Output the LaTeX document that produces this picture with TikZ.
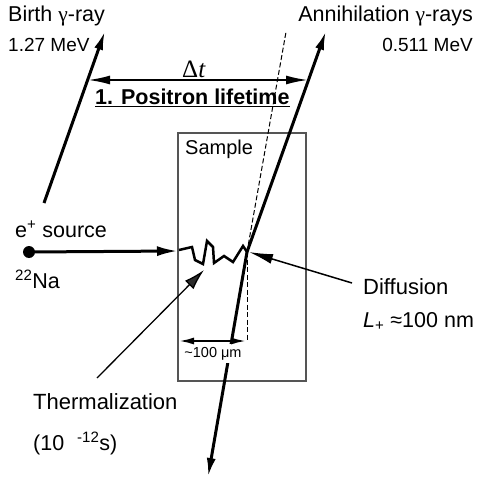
\documentclass[tikz,border=0pt]{standalone}
\usepackage{fontspec}
\setmainfont{Liberation Sans}
\newfontfamily\symserif{Liberation Serif}
\usetikzlibrary{arrows.meta}
\definecolor{boxgray}{HTML}{555555}
\definecolor{headgray}{HTML}{2B2B2B}
\begin{document}
\begin{tikzpicture}[x=1pt,y=-1pt,
  lbl/.style={inner sep=0pt,font=\fontsize{21.5}{25}\selectfont},
  small/.style={inner sep=0pt,font=\fontsize{14.5}{17}\selectfont},
  ray/.style={line width=3pt,-{Latex[length=19pt,width=9pt]}},
  dimarrow/.style={line width=2pt,{Latex[length=15pt,width=7pt]}-{Latex[length=15pt,width=7pt]}},
  thin dash/.style={line width=1pt,dash pattern=on 5pt off 2.5pt},
  pointer/.style={line width=1.5pt,-{Latex[length=24pt,width=10pt]}}
]
\useasboundingbox (0,0) rectangle (478,478);
% coordinates
\coordinate (birthS) at (44,203);
\coordinate (birthT) at (105,31);
\coordinate (I) at (247,252);
\coordinate (annT) at (326,31);
\coordinate (annB) at (208,477);
\coordinate (dashT) at (286,32);
\coordinate (vdashB) at (247,341);
\coordinate (dtL) at (88,80);
\coordinate (dtR) at (308,80);
\coordinate (src) at (29,252);
\coordinate (srcT) at (178,251);
\coordinate (thS) at (97,378);
\coordinate (thT) at (204,270);
\coordinate (dfS) at (352,283);
\coordinate (dfT) at (249,252);
\coordinate (mL) at (179,341);
\coordinate (mR) at (246,341);

% sample box
\draw[boxgray,line width=1.5pt] (178,133) rectangle (306,381);
\node[lbl,anchor=base west,font=\fontsize{20}{24}\selectfont] (sample) at (185,155) {Sample};

% texts top
\node[lbl,anchor=base west] (birth) at (8,22) {Birth {\symserif γ}-ray};
\node[lbl,anchor=base west,font=\fontsize{19}{23}\selectfont] (birthE) at (8,52) {1.27 MeV};
\node[lbl,anchor=base east] (ann) at (473,22) {Annihilation {\symserif γ}-rays};
\node[lbl,anchor=base east,font=\fontsize{19}{23}\selectfont] (annE) at (473,52) {0.511 MeV};
\node[lbl,anchor=base,font=\fontsize{25}{28}\selectfont\symserif] (dt) at (194,78) {Δ\textit{t}};
\node[lbl,anchor=base west,font=\fontsize{21.5}{25}\selectfont\bfseries] (life) at (95,105) {\underline{1. Positron lifetime}};

% source
\node[lbl,anchor=base west] (srclbl) at (15,237) {e\textsuperscript{+} source};
\node[lbl,anchor=base west] (na) at (15,288) {\textsuperscript{22}Na};
\fill (src) circle (6pt);
\draw[line width=3pt,-{Latex[length=21pt,width=10pt]}] (src) -- (srcT);

% rays
\draw[ray] (birthS) -- (birthT);
\draw[ray] (I) -- (annT);
\draw[thin dash] (I) -- (dashT);
\draw[ray] (I) -- (annB);

% delta t
\draw[line width=2pt,{Latex[length=22pt,width=9pt]}-{Latex[length=22pt,width=9pt]}] (dtL) -- (dtR);

% zigzag
\draw[line width=2.5pt,line join=miter] (179,250) -- (192,247) -- (195,260) -- (203,264) -- (207,241) -- (213,247) -- (214,263) -- (224,256) -- (233,262) -- (243,246) -- (I);

% 100 um
\node[small,anchor=base,fill=white,inner xsep=1pt,inner ysep=3pt] (um) at (213,357) {\textasciitilde{}100 μm};
\draw[thin dash] (I) -- (vdashB);
\draw[dimarrow] (mL) -- (mR);

% thermalization
\draw[line width=1.3pt,-{Latex[length=21pt,width=12pt,fill=headgray]}] (thS) -- (thT);
\node[lbl,anchor=base west,font=\fontsize{22}{26}\selectfont] (therm) at (33,409) {Thermalization};
\node[lbl,anchor=base west] (time) at (33,450) {(10\hspace{0.6em}\textsuperscript{-12}s)};

% diffusion
\draw[pointer] (dfS) -- (dfT);
\node[lbl,anchor=base west,font=\fontsize{22}{26}\selectfont] (diff) at (363,294) {Diffusion};
\node[lbl,anchor=base west] (lplus) at (363,327) {\textit{L}\textsubscript{+} ≈100 nm};
\end{tikzpicture}
\end{document}
